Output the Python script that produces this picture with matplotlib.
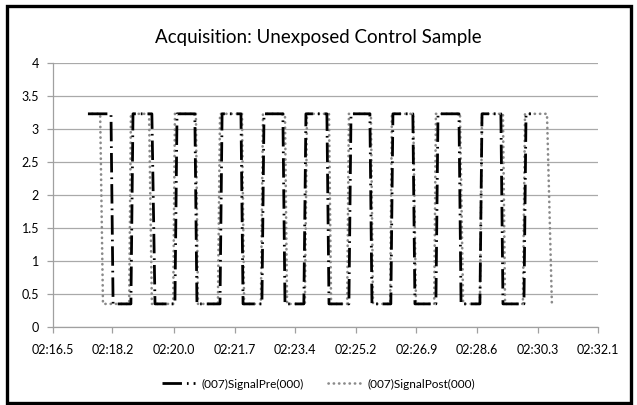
import matplotlib
matplotlib.use("Agg")
import matplotlib.pyplot as plt
from matplotlib.patches import Rectangle
from matplotlib.lines import Line2D
import numpy as np

plt.rcParams['font.family'] = ['Lato', 'DejaVu Sans']

title = "Acquisition: Unexposed Control Sample"
series_names = ["(007)SignalPre(000)", "(007)SignalPost(000)"]

# time in seconds after 02:00
pre_t = [17.50, 18.16, 18.22, 18.73, 18.79, 19.33, 19.42, 19.99, 20.05, 20.56,
         20.62, 21.28, 21.34, 21.88, 21.94, 22.48, 22.54, 23.08, 23.14, 23.68,
         23.74, 24.34, 24.40, 24.97, 25.03, 25.57, 25.63, 26.17, 26.23, 26.80,
         26.86, 27.46, 27.52, 28.12, 28.18, 28.72, 28.78, 29.32, 29.38, 29.98,
         30.04, 30.18]
pre_v = [3.23, 3.23, 0.35, 0.35, 3.23, 3.23, 0.35, 0.35, 3.23, 3.23,
         0.35, 0.35, 3.23, 3.23, 0.35, 0.35, 3.23, 3.23, 0.35, 0.35,
         3.23, 3.23, 0.35, 0.35, 3.23, 3.23, 0.35, 0.35, 3.23, 3.23,
         0.35, 0.35, 3.23, 3.23, 0.35, 0.35, 3.23, 3.23, 0.35, 0.35,
         3.23, 3.23]

post_t = [17.62, 17.85, 17.93, 18.68, 18.73, 19.25, 19.33, 19.94, 19.99, 20.59,
          20.65, 21.22, 21.28, 21.91, 21.97, 22.45, 22.51, 23.14, 23.20, 23.71,
          23.77, 24.40, 24.46, 24.92, 24.97, 25.60, 25.66, 26.15, 26.20, 26.81,
          26.89, 27.41, 27.46, 28.15, 28.24, 28.72, 28.78, 29.38, 29.44, 29.95,
          30.01, 30.64, 30.78]
post_v = [3.23, 3.23, 0.35, 0.35, 3.23, 3.23, 0.35, 0.35, 3.23, 3.23,
          0.35, 0.35, 3.23, 3.23, 0.35, 0.35, 3.23, 3.23, 0.35, 0.35,
          3.23, 3.23, 0.35, 0.35, 3.23, 3.23, 0.35, 0.35, 3.23, 3.23,
          0.35, 0.35, 3.23, 3.23, 0.35, 0.35, 3.23, 3.23, 0.35, 0.35,
          3.23, 3.23, 0.35]

x_ticks = [16.5, 18.2, 19.97, 21.7, 23.43, 25.17, 26.9, 28.63, 30.37, 32.1]
x_tick_labels = ["02:16.5", "02:18.2", "02:20.0", "02:21.7", "02:23.4",
                 "02:25.2", "02:26.9", "02:28.6", "02:30.3", "02:32.1"]
y_ticks = [0, 0.5, 1, 1.5, 2, 2.5, 3, 3.5, 4]
y_tick_labels = ["0", "0.5", "1", "1.5", "2", "2.5", "3", "3.5", "4"]

W, H = 637, 405
fig = plt.figure(figsize=(W / 100, H / 100), dpi=100)
fig.patch.set_facecolor('white')

L, R, T, B = 53, 598, 63, 327
ax = fig.add_axes([L / W, 1 - B / H, (R - L) / W, (B - T) / H])

pre_style = (0, (7.0, 1.8, 0.6, 1.8))
post_style = (0, (0.1, 1.9))

ax.plot(post_t, post_v, color='#8a8a8a', lw=1.9, linestyle=post_style,
        dash_capstyle='round', solid_capstyle='round', zorder=3)
ax.plot(pre_t, pre_v, color='black', lw=2.0, linestyle=pre_style,
        dash_capstyle='butt', zorder=4)

ax.set_xlim(16.5, 32.1)
ax.set_ylim(0, 4)
ax.set_xticks(x_ticks)
ax.set_xticklabels(x_tick_labels)
ax.set_yticks(y_ticks)
ax.set_yticklabels(y_tick_labels)
ax.grid(axis='y', color='#a9a9a9', lw=0.9)
ax.set_axisbelow(True)
for s in ['top', 'right']:
    ax.spines[s].set_visible(False)
for s in ['left', 'bottom']:
    ax.spines[s].set_color('#a0a0a0')
    ax.spines[s].set_linewidth(0.9)
ax.tick_params(axis='both', direction='out', length=4, width=0.9,
               color='#a0a0a0', labelsize=9, labelcolor='black')
ax.tick_params(axis='x', pad=8)
ax.tick_params(axis='y', pad=6)

fig.text(318 / W, 1 - 38 / H, title, ha='center', va='center', fontsize=13.5)

handles = [Line2D([], [], color='black', lw=2.0, linestyle=pre_style),
           Line2D([], [], color='#8a8a8a', lw=1.9, linestyle=post_style,
                  dash_capstyle='round')]
fig.legend(handles, series_names, loc='center', bbox_to_anchor=(0.5, 1 - 384 / H),
           ncol=2, frameon=False, fontsize=8.5, handlelength=2.8,
           columnspacing=2.0, handletextpad=0.6)

fig.add_artist(Rectangle((7 / W, 2 / H), (631 - 7) / W, (401 - 4) / H,
                         transform=fig.transFigure, fill=False,
                         edgecolor='black', lw=2.4))

fig.savefig('out.png', dpi=100)
